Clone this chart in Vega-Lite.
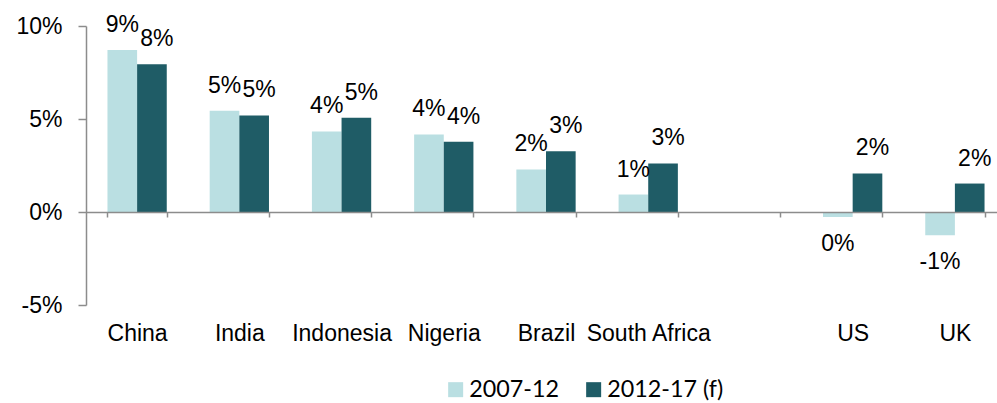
{
  "$schema": "https://vega.github.io/schema/vega-lite/v6.json",
  "width": 911,
  "height": 279,
  "autosize": {"type": "none"},
  "padding": {"left": 86, "top": 26, "right": 0, "bottom": 98},
  "config": {
    "view": {"stroke": null},
    "font": "Liberation Sans"
  },
  "data": {
    "values": [
      {"country": "China", "series": "2007-12", "value": 8.71, "label": "9%"},
      {"country": "China", "series": "2012-17 (f)", "value": 7.94, "label": "8%"},
      {"country": "India", "series": "2007-12", "value": 5.44, "label": "5%"},
      {"country": "India", "series": "2012-17 (f)", "value": 5.19, "label": "5%"},
      {"country": "Indonesia", "series": "2007-12", "value": 4.33, "label": "4%"},
      {"country": "Indonesia", "series": "2012-17 (f)", "value": 5.07, "label": "5%"},
      {"country": "Nigeria", "series": "2007-12", "value": 4.17, "label": "4%"},
      {"country": "Nigeria", "series": "2012-17 (f)", "value": 3.78, "label": "4%"},
      {"country": "Brazil", "series": "2007-12", "value": 2.29, "label": "2%"},
      {"country": "Brazil", "series": "2012-17 (f)", "value": 3.27, "label": "3%"},
      {"country": "South Africa", "series": "2007-12", "value": 0.94, "label": "1%"},
      {"country": "South Africa", "series": "2012-17 (f)", "value": 2.61, "label": "3%"},
      {"country": "US", "series": "2007-12", "value": -0.27, "label": "0%"},
      {"country": "US", "series": "2012-17 (f)", "value": 2.07, "label": "2%"},
      {"country": "UK", "series": "2007-12", "value": -1.25, "label": "-1%"},
      {"country": "UK", "series": "2012-17 (f)", "value": 1.53, "label": "2%"}
    ]
  },
  "encoding": {
    "x": {
      "field": "country",
      "type": "nominal",
      "scale": {
        "domain": ["China", "India", "Indonesia", "Nigeria", "Brazil", "South Africa", " ", "US", "UK"],
        "range": [0, 920],
        "paddingInner": 0.42,
        "paddingOuter": 0.21
      },
      "axis": {
        "title": null,
        "orient": "bottom",
        "offset": -93,
        "domainColor": "#8C8C8C",
        "domainWidth": 1.5,
        "tickColor": "#8C8C8C",
        "tickWidth": 1.5,
        "tickSize": 5,
        "tickBand": "extent",
        "labelAngle": 0,
        "labelPadding": 105,
        "labelFont": "Liberation Sans",
        "labelFontSize": 23,
        "labelColor": "#000000",
        "labelOverlap": false,
        "labelBound": false,
        "labelLimit": 300,
        "zindex": 1
      }
    },
    "y": {
      "field": "value",
      "type": "quantitative",
      "scale": {"domain": [-5, 10], "nice": false, "zero": false},
      "axis": {
        "title": null,
        "values": [-5, 0, 5, 10],
        "labelExpr": "datum.value + '%'",
        "grid": false,
        "domainColor": "#8C8C8C",
        "domainWidth": 1.5,
        "tickColor": "#8C8C8C",
        "tickWidth": 1.5,
        "tickSize": 8,
        "labelPadding": 16,
        "labelFont": "Liberation Sans",
        "labelFontSize": 23,
        "labelColor": "#000000"
      }
    },
    "xOffset": {
      "field": "series",
      "type": "nominal",
      "scale": {"domain": ["2007-12", "2012-17 (f)"], "paddingInner": 0, "paddingOuter": 0}
    }
  },
  "layer": [
    {
      "mark": {"type": "bar"},
      "encoding": {
        "color": {
          "field": "series",
          "type": "nominal",
          "scale": {"domain": ["2007-12", "2012-17 (f)"], "range": ["#BADFE2", "#1F5C66"]},
          "legend": {
            "title": null,
            "orient": "none",
            "direction": "horizontal",
            "legendX": 358,
            "legendY": 352,
            "symbolType": "square",
            "symbolSize": 225,
            "symbolStrokeWidth": 0,
            "labelFont": "Lato",
            "labelFontSize": 23.3,
            "labelColor": "#000000",
            "labelOffset": 2,
            "columnPadding": 22
          }
        }
      }
    },
    {
      "transform": [{"filter": "datum.series == '2007-12' && datum.value >= 0"}],
      "mark": {"type": "text", "dy": -18, "baseline": "alphabetic", "align": "center", "font": "Liberation Sans", "fontSize": 23, "color": "#000000"},
      "encoding": {"text": {"field": "label"}}
    },
    {
      "transform": [{"filter": "datum.series == '2012-17 (f)' && datum.value >= 0"}],
      "mark": {"type": "text", "dy": -18, "dx": 5, "baseline": "alphabetic", "align": "center", "font": "Liberation Sans", "fontSize": 23, "color": "#000000"},
      "encoding": {"text": {"field": "label"}}
    },
    {
      "transform": [{"filter": "datum.value < 0"}],
      "mark": {"type": "text", "dy": 34, "baseline": "alphabetic", "align": "center", "font": "Liberation Sans", "fontSize": 23, "color": "#000000"},
      "encoding": {"text": {"field": "label"}}
    }
  ]
}
